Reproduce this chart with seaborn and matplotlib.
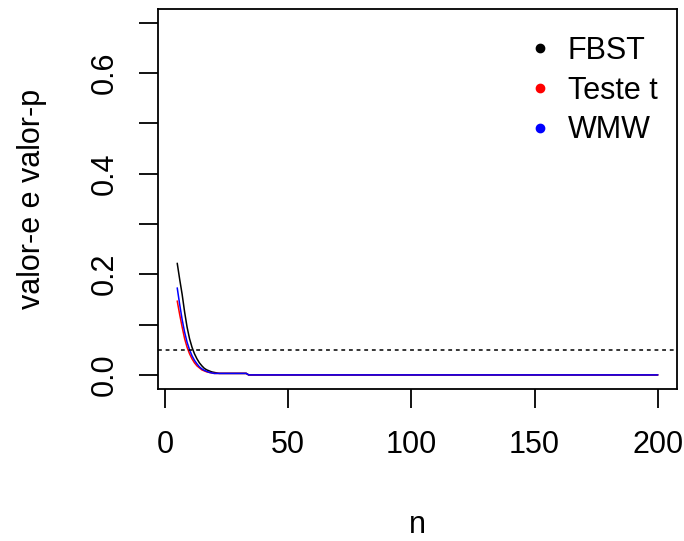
import numpy as np
import pandas as pd
import seaborn as sns
import matplotlib
matplotlib.use("Agg")
import matplotlib.pyplot as plt
from matplotlib.lines import Line2D

# ---- data ----
n_head = list(range(5, 35))
fbst_head = [0.222, 0.19, 0.16, 0.125, 0.095, 0.072, 0.055, 0.042, 0.032, 0.024,
             0.018, 0.013, 0.010, 0.008, 0.006, 0.005, 0.004, 0.003, 0.003, 0.003,
             0.003, 0.003, 0.003, 0.003, 0.003, 0.003, 0.003, 0.003, 0.003, 0.0]
teste_t_head = [0.147, 0.12, 0.095, 0.072, 0.055, 0.042, 0.032, 0.024, 0.018, 0.014,
                0.010, 0.008, 0.006, 0.005, 0.004, 0.003, 0.003, 0.003, 0.003, 0.003,
                0.003, 0.003, 0.003, 0.003, 0.003, 0.003, 0.003, 0.003, 0.003, 0.0]
wmw_head = [0.173, 0.14, 0.11, 0.085, 0.065, 0.05, 0.038, 0.029, 0.022, 0.016,
            0.012, 0.009, 0.007, 0.005, 0.004, 0.003, 0.003, 0.003, 0.003, 0.003,
            0.003, 0.003, 0.003, 0.003, 0.003, 0.003, 0.003, 0.003, 0.003, 0.0]
n_tail = list(range(35, 201))
tail_zero = [0.0] * len(n_tail)

n_values = n_head + n_tail
fbst = fbst_head + tail_zero
teste_t = teste_t_head + tail_zero
wmw = wmw_head + tail_zero

series_names = ["FBST", "Teste t", "WMW"]
series_colors = ["black", "red", "blue"]
x_ticks = [0, 50, 100, 150, 200]
y_ticks = [0.0, 0.1, 0.2, 0.3, 0.4, 0.5, 0.6, 0.7]
y_tick_labels = ["0.0", "", "0.2", "", "0.4", "", "0.6", ""]
threshold = 0.05

df = pd.DataFrame({
    "n": n_values * 3,
    "valor": fbst + teste_t + wmw,
    "serie": [s for s in series_names for _ in n_values],
})

sns.set_style("white")
plt.rcParams["font.family"] = ["Liberation Sans", "DejaVu Sans"]
plt.rcParams["text.color"] = "black"
plt.rcParams["axes.labelcolor"] = "black"

fig = plt.figure(figsize=(6.84, 5.41), dpi=100)
ax = fig.add_axes([158/684, 1 - 389/541, (677-158)/684, (389-8.7)/541])

sns.lineplot(data=df, x="n", y="valor", hue="serie", hue_order=series_names,
             palette=series_colors, linewidth=1.1, ax=ax, legend=False)
ax.axhline(threshold, color="black", linestyle=(0, (2.5, 2.5)), linewidth=1.1)

ax.set_xlim(5 - 0.04*195, 200 + 0.04*195)
ax.set_ylim(-0.028, 0.728)
ax.set_xticks(x_ticks)
ax.set_xticklabels([str(t) for t in x_ticks])
ax.set_yticks(y_ticks)
ax.set_yticklabels(y_tick_labels, rotation=90, va="center")

for sp in ax.spines.values():
    sp.set_visible(True)
    sp.set_color("black")
    sp.set_linewidth(1.3)

ax.tick_params(axis="both", direction="out", length=13.5, width=1.3,
               labelsize=22, colors="black", left=True, bottom=True)
ax.tick_params(axis="x", pad=16)
ax.tick_params(axis="y", pad=14)

ax.set_xlabel("n", fontsize=22, labelpad=36, color="black")
ax.set_ylabel("valor-e e valor-p", fontsize=22, labelpad=31, color="black")

handles = [Line2D([], [], marker="o", linestyle="none", color=c, markersize=6)
           for c in series_colors]
ax.legend(handles, series_names, loc="upper right", frameon=False, fontsize=22,
          handlelength=1.0, handletextpad=0.4, labelspacing=0.32,
          borderaxespad=0.3, bbox_to_anchor=(1.004, 0.985), labelcolor="black")

fig.savefig("out.png", dpi=100)
